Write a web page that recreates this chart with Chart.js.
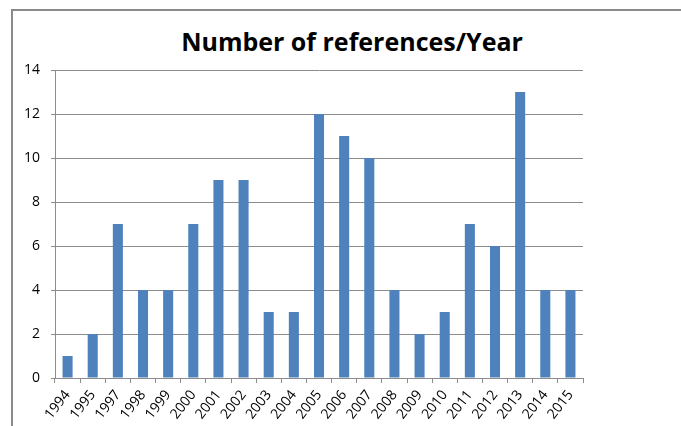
<!DOCTYPE html>
<html>
<head>
<meta charset="utf-8">
<script src="https://cdn.jsdelivr.net/npm/chart.js@4"></script>
<style>
  html, body { margin: 0; padding: 0; background: #fff; }
  body { width: 681px; height: 426px; position: relative; overflow: hidden; }
  #marco {
    position: absolute; left: 11px; top: 9px; width: 700px; height: 430px;
    border-top: 2px solid #8a8a8a; border-left: 2px solid #8a8a8a;
  }
  #titulo {
    position: absolute; left: 152px; width: 400px; top: 29px; text-align: center;
    font: bold 25px/25px "Open Sans", sans-serif; color: #000;
  }
  #lienzo { position: absolute; left: 12px; top: 10px; }
</style>
</head>
<body>
<div id="marco"></div>
<div id="titulo">Number of references/Year</div>
<canvas id="lienzo" width="669" height="416"></canvas>
<script>
// Datos
const anios = ['1994', '1995', '1997', '1998', '1999', '2000', '2001', '2002', '2003', '2004', '2005',
  '2006', '2007', '2008', '2009', '2010', '2011', '2012', '2013', '2014', '2015'];
const referencias = [1, 2, 7, 4, 4, 7, 9, 9, 3, 3, 12, 11, 10, 4, 2, 3, 7, 6, 13, 4, 4];
const ejeYMin = 0;
const ejeYMax = 14;
const ejeYPaso = 2;

const gris = '#8c8c8c';

let ctx = document.getElementById('lienzo').getContext('2d');
let grafico = new Chart(ctx, {
  type: 'bar',
  data: {
    labels: anios,
    datasets: [{
      label: 'Number of references',
      data: referencias,
      backgroundColor: '#4f81bd',
      categoryPercentage: 1,
      barPercentage: 0.4
    }]
  },
  options: {
    responsive: false,
    animation: false,
    layout: { padding: { top: 60, right: 98, left: 0, bottom: 0 } },
    plugins: {
      legend: { display: false },
      title: { display: false },
      tooltip: { enabled: false }
    },
    scales: {
      x: {
        offset: true,
        grid: { offset: true, drawOnChartArea: false, drawTicks: true, tickLength: 5, color: gris },
        border: { color: gris },
        ticks: {
          autoSkip: false, maxRotation: 52, minRotation: 52, padding: 4,
          color: '#000', font: { family: 'Open Sans', size: 14 }
        },
        afterFit: s => { s.height = 48; }
      },
      y: {
        min: ejeYMin,
        max: ejeYMax,
        grid: { color: gris, tickLength: 4 },
        border: { color: gris },
        ticks: {
          stepSize: ejeYPaso, padding: 11,
          color: '#000', font: { family: 'Open Sans', size: 14 }
        },
        afterFit: s => { s.width = 43; }
      }
    }
  }
});
</script>
</body>
</html>
